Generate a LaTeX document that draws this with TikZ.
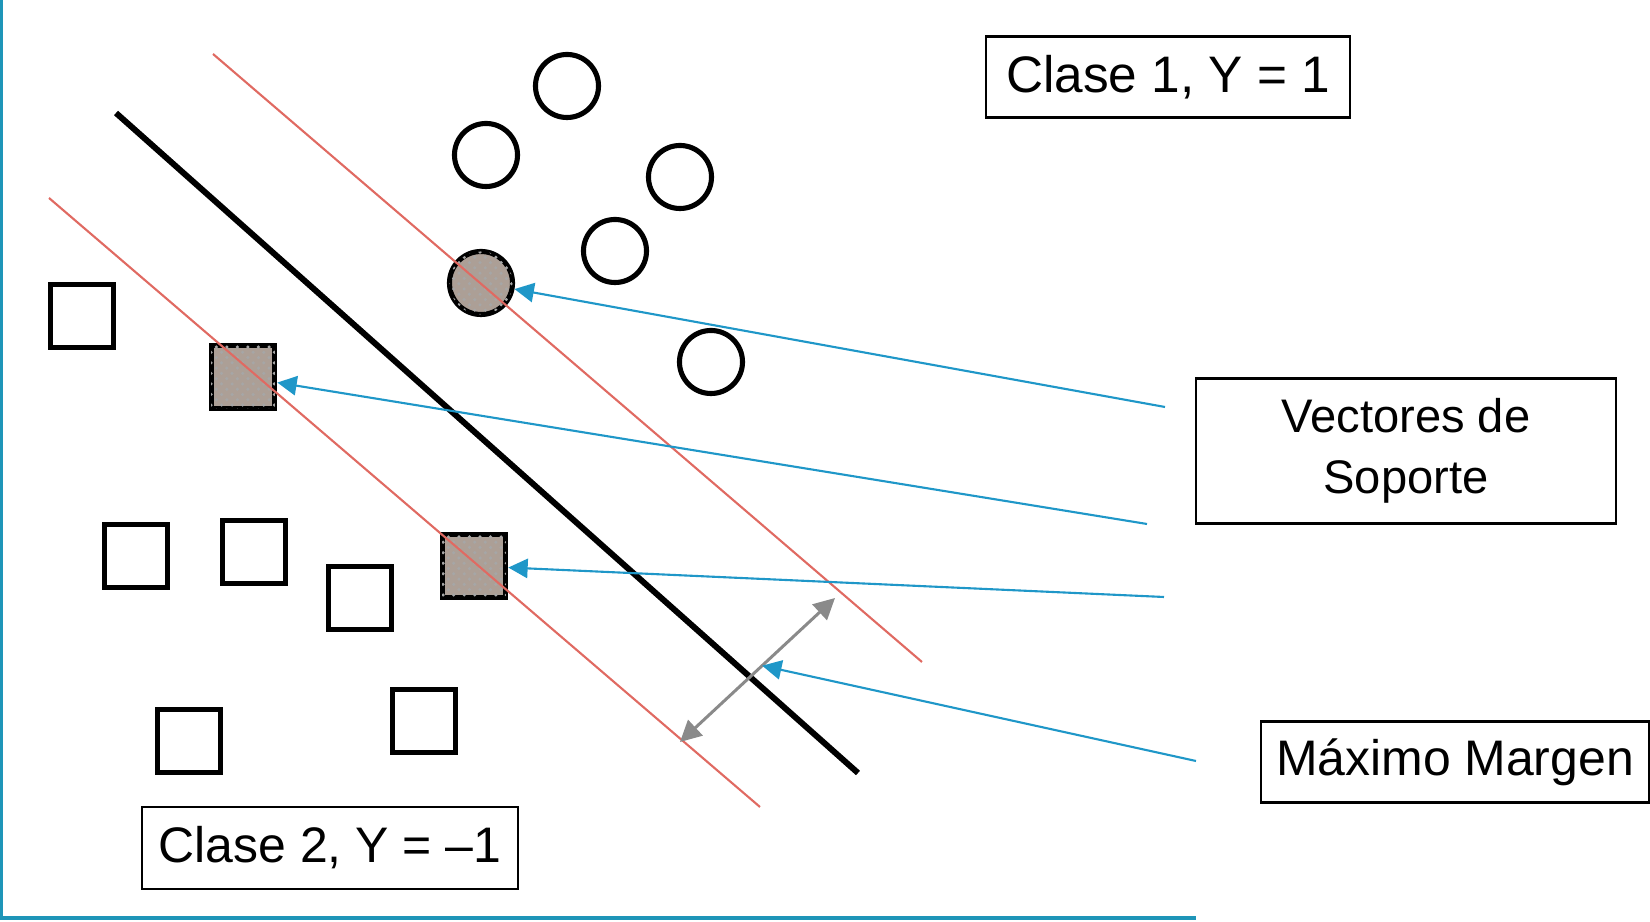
\documentclass[tikz,border=0pt]{standalone}
\usepackage{fontspec}
\setmainfont{Liberation Sans}
\usetikzlibrary{arrows.meta,positioning,calc,patterns}
\definecolor{svBlue}{HTML}{1F97C8}
\definecolor{svFrame}{HTML}{1E95B8}
\definecolor{svRed}{HTML}{E06A62}
\definecolor{svGray}{HTML}{8A8A8A}
\definecolor{svStone}{HTML}{AC9F96}
\tikzset{
  svpoint/.style={draw, line width=1.45pt, inner sep=0pt},
  clsone/.style={svpoint, circle, minimum size=6.3mm},
  clstwo/.style={svpoint, rectangle, minimum size=6.35mm},
  support/.style={fill=svStone, postaction={pattern=crosshatch dots, pattern color=black!35}},
  labelbox/.style={draw, line width=0.6pt, align=center, inner sep=0pt,
    font=\fontsize{14.2pt}{17.6pt}\selectfont},
  hyperline/.style={line width=1.7pt, black},
  marginline/.style={line width=0.6pt, svRed},
  pointer/.style={-{Triangle[length=5.5pt,width=5.5pt]}, line width=0.6pt, svBlue},
  marginarrow/.style={{Triangle[length=6pt,width=6pt]}-{Triangle[length=6pt,width=6pt]},
    line width=0.85pt, svGray},
  frameline/.style={svFrame}
}
\begin{document}
\begin{tikzpicture}[x=0.01cm, y=-0.01cm]
  \useasboundingbox (0,0) rectangle (1650,922);
  % frame
  \draw[frameline, line width=0.85pt] (1.5,0) -- (1.5,918);
  \draw[frameline, line width=1.1pt] (0,918) -- (1196,918);

  % class 1
  \node[clsone] (c1) at (567,86) {};
  \node[clsone] (c2) at (486,155) {};
  \node[clsone] (c3) at (680,177) {};
  \node[clsone] (c4) at (615,251) {};
  \node[clsone] (c5) at (711,362) {};
  \node[clsone, support] (svc) at (481,283) {};

  % class 2
  \node[clstwo] (s1) at (82,316) {};
  \node[clstwo] (s2) at (136,556) {};
  \node[clstwo] (s3) at (254,552) {};
  \node[clstwo] (s4) at (360,598) {};
  \node[clstwo] (s5) at (189,741) {};
  \node[clstwo] (s6) at (424,721) {};
  \node[clstwo, support] (svsa) at (243,377) {};
  \node[clstwo, support] (svsb) at (474,566) {};

  % hyperplane and margins
  \coordinate (hypA) at (116,113);
  \coordinate (hypB) at (858,773);
  \coordinate (upA) at (213,54);
  \coordinate (upB) at (922,662);
  \coordinate (loA) at (49,198);
  \coordinate (loB) at (760,807);
  \draw[hyperline] (hypA) -- (hypB);
  \draw[marginline] (upA) -- (upB);
  \draw[marginline] (loA) -- (loB);
  \coordinate (mgA) at (680,742);
  \coordinate (mgB) at (835,598);
  \draw[marginarrow] (mgA) -- (mgB) coordinate[pos=0.53] (mgmid);

  % labels
  \node[labelbox, minimum width=3.63cm, minimum height=0.81cm, font=\fontsize{14.6pt}{17.6pt}\selectfont] (cls1) at (1168,77) {Clase 1, Y = 1};
  \node[labelbox, minimum width=3.75cm, minimum height=0.82cm] (cls2) at (330,848) {Clase 2, Y = –1};
  \node[labelbox, minimum width=4.19cm, minimum height=1.45cm, font=\fontsize{13.4pt}{17.2pt}\selectfont] (vec) at (1406,451) {Vectores de\\Soporte};
  \node[labelbox, minimum width=3.87cm, minimum height=0.81cm] (mrg) at (1455,762) {Máximo Margen};

  % pointers
  \coordinate (ptA) at (1165,407);
  \coordinate (ptB) at (1147,524);
  \coordinate (ptC) at (1164,597);
  \coordinate (ptD) at (1196,761);
  \draw[pointer] (ptA) -- (svc);
  \draw[pointer] (ptB) -- (svsa);
  \draw[pointer] (ptC) -- (svsb);
  \draw[pointer] (ptD) -- (mgmid);
\end{tikzpicture}
\end{document}
